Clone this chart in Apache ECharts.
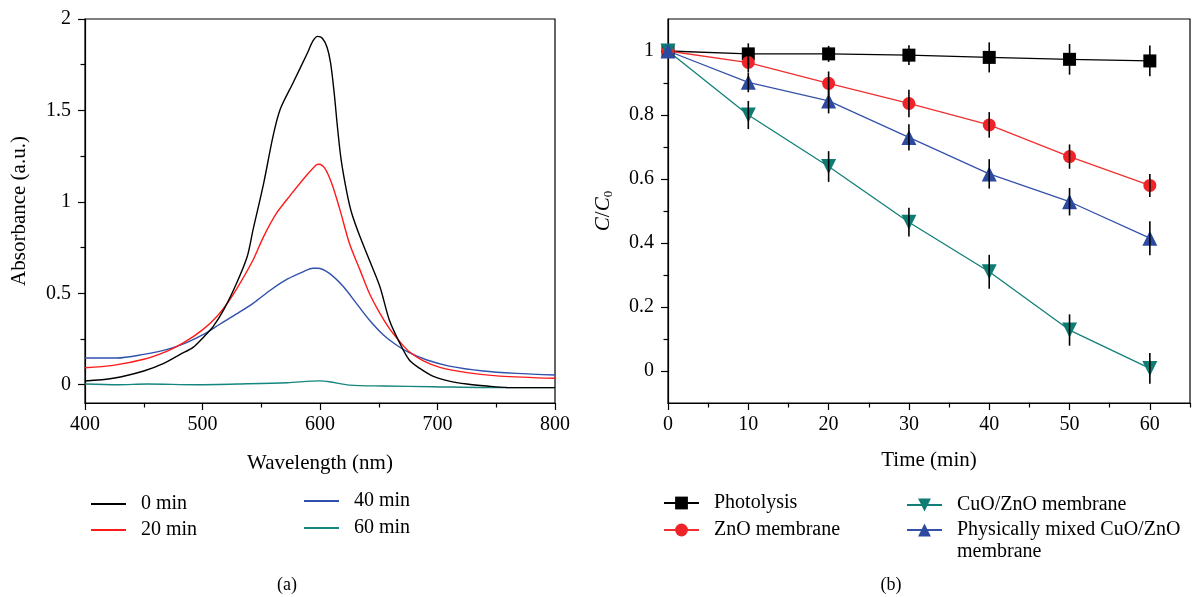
<!DOCTYPE html>
<html>
<head>
<meta charset="utf-8">
<script src="https://cdn.jsdelivr.net/npm/echarts@6/dist/echarts.min.js"></script>
<style>
html,body{margin:0;padding:0;background:#fff;}
#chart{width:1197px;height:597px;}
</style>
</head>
<body>
<div id="chart"></div>
<script>
// ---------- Panel (a): absorbance spectra ----------
const wl0  = [400,424,450,467,481,492,500,509,518,529,538,543,552,560,566,577,589,594,598,602,606,609,612,615,618,623,627,634,642,651,659,668,676,685,696,710,725,742,759,800];
const abs0 = [0.020,0.035,0.075,0.117,0.166,0.204,0.254,0.318,0.409,0.555,0.700,0.847,1.100,1.358,1.504,1.650,1.810,1.880,1.905,1.895,1.845,1.760,1.600,1.400,1.230,1.047,0.938,0.810,0.682,0.536,0.354,0.226,0.135,0.089,0.047,0.020,0.004,-0.007,-0.015,-0.016];
const wl20  = [400,424,450,470,484,500,512,523,532,543,552,563,575,589,597,599,604,610,617,625,634,642,651,659,668,676,688,702,725,753,800];
const abs20 = [0.093,0.106,0.139,0.184,0.230,0.300,0.372,0.463,0.555,0.682,0.810,0.938,1.038,1.148,1.203,1.206,1.184,1.100,0.956,0.774,0.628,0.500,0.390,0.308,0.235,0.180,0.130,0.095,0.066,0.047,0.035];
const wl40  = [400,427,450,470,487,500,515,529,543,558,572,586,594,598,608,620,631,642,654,665,676,691,710,739,767,800];
const abs40 = [0.146,0.146,0.166,0.193,0.232,0.272,0.332,0.387,0.445,0.518,0.577,0.619,0.637,0.637,0.609,0.536,0.445,0.354,0.272,0.217,0.175,0.135,0.102,0.075,0.062,0.053];
const wl60  = [400,428,453,495,538,572,600,608,625,654,696,753,800];
const abs60 = [0.004,0.000,0.004,0.000,0.005,0.011,0.021,0.016,-0.002,-0.007,-0.011,-0.016,-0.016];
const spectraNames = ['0 min','20 min','40 min','60 min'];
const wlTicks = [400,500,600,700,800];
const wlMinorTicks = [450,550,650,750];
const absTicks = [0,0.5,1,1.5,2];
const absMinorTicks = [0.25,0.75,1.25,1.75];

// ---------- Panel (b): C/C0 vs time ----------
const timeMin = [0,10,20,30,40,50,60];
const photolysis    = [1.000,0.991,0.991,0.987,0.980,0.974,0.969];
const photolysisErr = [0,0.033,0.025,0.031,0.047,0.048,0.048];
const znoMem        = [1.000,0.964,0.899,0.836,0.769,0.670,0.580];
const znoMemErr     = [0,0.030,0.037,0.043,0.040,0.038,0.036];
const cuoZnoMem     = [1.000,0.800,0.639,0.465,0.310,0.128,0.008];
const cuoZnoMemErr  = [0,0.044,0.048,0.045,0.053,0.049,0.048];
const mixedMem      = [1.000,0.902,0.844,0.730,0.616,0.529,0.415];
const mixedMemErr   = [0,0.031,0.039,0.041,0.046,0.043,0.053];
const kineticNames = ['Photolysis','ZnO membrane','CuO/ZnO membrane','Physically mixed CuO/ZnO membrane'];
const timeTicks = [0,10,20,30,40,50,60];
const timeMinorTicks = [5,15,25,35,45,55,65];
const ratioTicks = [0,0.2,0.4,0.6,0.8,1];
const ratioMinorTicks = [0.1,0.3,0.5,0.7,0.9];

const FONT = 'Liberation Serif';
const txt = {fontFamily: FONT, fontSize: 20, color: '#000'};
const big = {fontFamily: FONT, fontSize: 21, color: '#000'};
const leg = {fontFamily: FONT, fontSize: 20, color: '#000'};

function pairs(xs, ys){ return xs.map((x,i)=>[x, ys[i]]); }

function mainX(grid, min, max, ticks, name, gap){
  return {type:'value', gridIndex:grid, min:min, max:max, position:'bottom',
    axisLine:{show:true, onZero:false, lineStyle:{color:'#000', width:1.2}},
    axisTick:{show:true, inside:false, length:7, customValues:ticks, lineStyle:{color:'#000', width:1.2}},
    axisLabel:{show:true, customValues:ticks, margin:12, ...txt},
    splitLine:{show:false},
    name:name, nameLocation:'middle', nameGap:gap, nameTextStyle:{...big}};
}
function minorX(grid, min, max, ticks){
  return {type:'value', gridIndex:grid, min:min, max:max, position:'bottom',
    axisLine:{show:false, onZero:false},
    axisTick:{show:true, inside:false, length:4.5, customValues:ticks, lineStyle:{color:'#000', width:1.2}},
    axisLabel:{show:false}, splitLine:{show:false}};
}
function mainY(grid, min, max, ticks, name, gap, extra){
  return {type:'value', gridIndex:grid, min:min, max:max, position:'left',
    axisLine:{show:true, onZero:false, lineStyle:{color:'#000', width:1.2}},
    axisTick:{show:true, inside:false, length:7, customValues:ticks, lineStyle:{color:'#000', width:1.2}},
    axisLabel:{show:true, customValues:ticks, margin:14, ...txt},
    splitLine:{show:false},
    name:name, nameLocation:'middle', nameGap:gap, nameRotate:90, nameTextStyle:Object.assign({...big}, extra||{})};
}
function minorY(grid, min, max, ticks){
  return {type:'value', gridIndex:grid, min:min, max:max, position:'left',
    axisLine:{show:false, onZero:false},
    axisTick:{show:true, inside:false, length:4.5, customValues:ticks, lineStyle:{color:'#000', width:1.2}},
    axisLabel:{show:false}, splitLine:{show:false}};
}

function errSeries(vals, errs){
  return {type:'custom', xAxisIndex:2, yAxisIndex:2, z:10, silent:true,
    data: timeMin.map((t,i)=>[t, vals[i]-errs[i], vals[i]+errs[i]]),
    renderItem: function(params, api){
      const lo = api.value(1), hi = api.value(2);
      if (hi - lo <= 0) return null;
      const p1 = api.coord([api.value(0), lo]);
      const p2 = api.coord([api.value(0), hi]);
      return {type:'line', shape:{x1:p1[0], y1:p1[1], x2:p2[0], y2:p2[1]}, style:{stroke:'#000', lineWidth:1.6}};
    }};
}

const specColors = ['#000000','#ff1a1a','#3150ac','#15857e'];
const specData = [pairs(wl0,abs0), pairs(wl20,abs20), pairs(wl40,abs40), pairs(wl60,abs60)];
const specSeries = spectraNames.map((n,i)=>({
  name:n, type:'line', xAxisIndex:0, yAxisIndex:0, data:specData[i],
  symbol:'none', smooth:0.3, legendIcon:'rect',
  lineStyle:{color:specColors[i], width:1.4}, itemStyle:{color:specColors[i]}, z: 4-i
}));

const kinColors = ['#000000','#ee2428','#0f7c74','#2d4a9f'];
const kinLine = ['#000000','#f03030','#128078','#3452aa'];
const kinVals = [photolysis, znoMem, cuoZnoMem, mixedMem];
const kinErrs = [photolysisErr, znoMemErr, cuoZnoMemErr, mixedMemErr];
const kinSymbols = ['rect','circle','triangle','triangle'];
const kinSizes = [13,13,15,15];
const kinRot = [0,0,180,0];
const kinSeries = kineticNames.map((n,i)=>({
  name:n, type:'line', xAxisIndex:2, yAxisIndex:2, data:pairs(timeMin, kinVals[i]),
  symbol:kinSymbols[i], symbolSize:kinSizes[i], symbolRotate:kinRot[i], showSymbol:true,
  lineStyle:{color:kinLine[i], width:1.3}, itemStyle:{color:kinColors[i]}, z: 5
}));
const errSeriesList = kinVals.map((v,i)=>errSeries(v, kinErrs[i]));

// legend placed so that its icon is centred at y = cy
function lgLine(name, left, cy){
  return {data:[name], left:left, top:cy-8, orient:'vertical', padding:0,
    itemWidth:35, itemHeight:1.6, itemGap:0, selectedMode:false,
    textStyle:{...leg, lineHeight:16, padding:[0,0,0,10]}};
}
function lgSym(name, left, cy){
  return {data:[name], left:left, top:cy-8, orient:'vertical', padding:0,
    itemWidth:35, itemHeight:16, itemGap:0, selectedMode:false,
    textStyle:{...leg, lineHeight:16, padding:[0,0,0,10]}};
}

const option = {
  animation:false,
  backgroundColor:'#fff',
  grid:[
    {left:85, top:19, width:470, height:384, show:true, borderColor:'#000', borderWidth:1.2, backgroundColor:'transparent'},
    {left:668, top:19, width:522, height:384, show:true, borderColor:'#000', borderWidth:1.2, backgroundColor:'transparent'}
  ],
  xAxis:[
    mainX(0, 400, 800, wlTicks, 'Wavelength (nm)', 50),
    minorX(0, 400, 800, wlMinorTicks),
    mainX(1, 0, 65, timeTicks, 'Time (min)', 47),
    minorX(1, 0, 65, timeMinorTicks)
  ],
  yAxis:[
    mainY(0, -0.1, 2, absTicks, 'Absorbance (a.u.)', 55),
    minorY(0, -0.1, 2, absMinorTicks),
    mainY(1, -0.1, 1.1, ratioTicks, '{i|C}/{i|C}{s|0}', 53,
      {rich:{i:{fontStyle:'italic', fontFamily:FONT, fontSize:21, lineHeight:24}, s:{fontFamily:FONT, fontSize:13, lineHeight:24, verticalAlign:'bottom', padding:[7,0,0,0]}}}),
    minorY(1, -0.1, 1.1, ratioMinorTicks)
  ],
  legend:[
    lgLine('0 min', 90, 502),
    lgLine('20 min', 90, 528),
    lgLine('40 min', 303, 499),
    lgLine('60 min', 303, 526),
    lgSym('Photolysis', 663, 501),
    lgSym('ZnO membrane', 663, 528),
    lgSym('CuO/ZnO membrane', 906, 503),
    {data:['Physically mixed CuO/ZnO membrane'], left:906, top:527-8-22, orient:'vertical', padding:0,
      itemWidth:35, itemHeight:16, itemGap:0, selectedMode:false,
      formatter:function(){ return ' \nPhysically mixed CuO/ZnO\nmembrane'; },
      textStyle:{...leg, lineHeight:22, padding:[0,0,0,10]}}
  ],
  title:[
    {text:'(a)', left:287, top:576, textAlign:'center', padding:0, textStyle:{...txt, fontWeight:'normal', fontSize:18}},
    {text:'(b)', left:891, top:576, textAlign:'center', padding:0, textStyle:{...txt, fontWeight:'normal', fontSize:18}}
  ],
  series:[...specSeries, ...kinSeries, ...errSeriesList]
};

const chart = echarts.init(document.getElementById('chart'), null, {renderer:'canvas'});
chart.setOption(option);
</script>
</body>
</html>
